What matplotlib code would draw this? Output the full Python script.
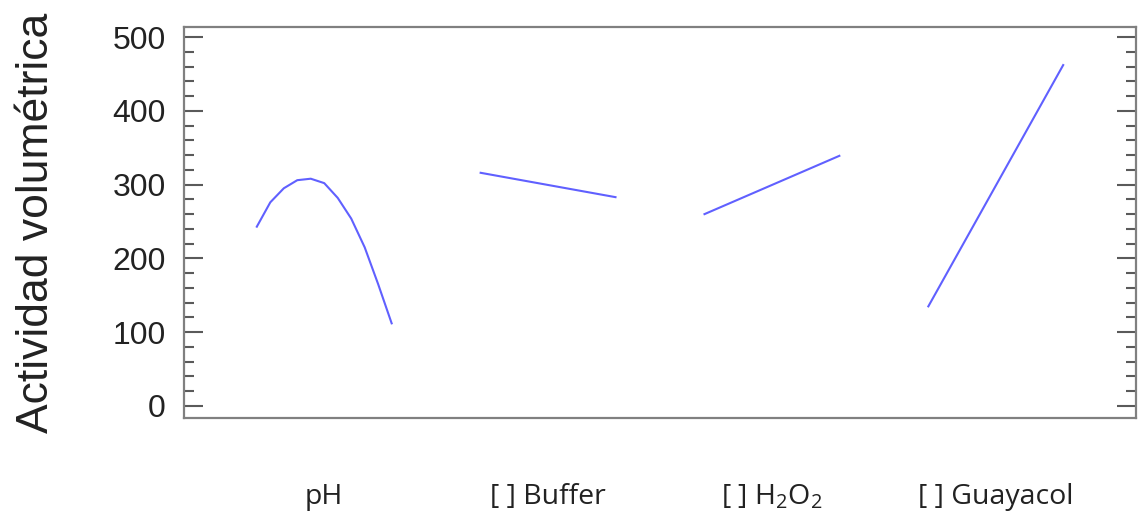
import numpy as np
import matplotlib
matplotlib.use("Agg")
import matplotlib.pyplot as plt
from matplotlib.ticker import MultipleLocator

plt.rcParams['font.family'] = ['Liberation Sans', 'DejaVu Sans']
plt.rcParams['mathtext.fontset'] = 'custom'
plt.rcParams['mathtext.rm'] = 'Open Sans'
plt.rcParams['mathtext.it'] = 'Open Sans:italic'

# Data (coded factor levels from -1 to +1)
factors = ["pH", "[ ] Buffer", "[ ] H$_2$O$_2$", "[ ] Guayacol"]
ph_levels = [-1.0, -0.8, -0.6, -0.4, -0.2, 0.0, 0.2, 0.4, 0.6, 0.8, 1.0]
ph_values = [243, 276, 295, 306, 308, 302, 282, 254, 215, 165, 112]
buffer_levels = [-1.0, 1.0]
buffer_values = [316, 283]
h2o2_levels = [-1.0, 1.0]
h2o2_values = [260, 339]
guayacol_levels = [-1.0, 1.0]
guayacol_values = [135, 462]

series = [(ph_levels, ph_values), (buffer_levels, buffer_values),
          (h2o2_levels, h2o2_values), (guayacol_levels, guayacol_values)]

gap = 3.32
line_color = '#6060ff'

fig = plt.figure(figsize=(11.42, 5.16), dpi=100)
ax = fig.add_axes([184/1142, 98/516, (1136-184)/1142, (418-27)/516])

for i, (lv, vals) in enumerate(series):
    x = np.array(lv) + i * gap
    ax.plot(x, vals, color=line_color, lw=1.5, solid_joinstyle='round')

ax.set_xlim(-2.08, 3 * gap + 2.08)
ax.set_ylim(-16.3, 513.6)

ax.set_xticks([i * gap for i in range(len(factors))])
ax.set_xticklabels(factors, fontfamily='Open Sans', fontsize=20.5, color='#222222')
ax.tick_params(axis='x', length=0, pad=47)

ax.yaxis.set_major_locator(MultipleLocator(100))
ax.yaxis.set_minor_locator(MultipleLocator(20))
ax.tick_params(axis='y', which='major', direction='in', length=13.5, width=1.5,
               color='#5a5a5a', right=True, labelsize=23, pad=13, labelcolor='#222222')
ax.tick_params(axis='y', which='minor', direction='in', length=7, width=1.5,
               color='#5a5a5a', right=True)

for sp in ax.spines.values():
    sp.set_color('#808080')
    sp.set_linewidth(1.6)

ax.set_ylabel("Actividad volumétrica", fontsize=32, color='#222222', labelpad=40)

fig.savefig("out.png", dpi=100)
